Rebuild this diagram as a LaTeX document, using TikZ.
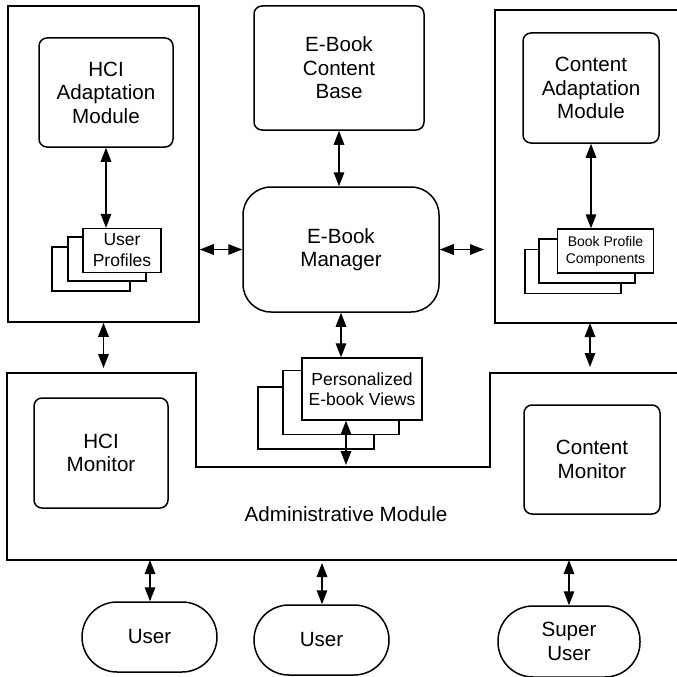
\documentclass[tikz,border=0pt]{standalone}
\usepackage{fontspec}
\setmainfont{Liberation Sans}
\usetikzlibrary{arrows.meta}
\begin{document}
\begin{tikzpicture}[x=1pt,y=-1pt,
  lw/.style={line width=1.5pt},
  big/.style={font=\fontsize{20.6}{23.5}\selectfont},
  box/.style={draw,lw,rounded corners=8pt,inner sep=0pt,align=center,big},
  frame/.style={draw,lw,inner sep=0pt},
  page/.style={draw,fill=white,line width=1.3pt,inner sep=0pt,align=center},
  dbl/.style={lw,{Triangle[length=14pt,width=10.5pt]}-{Triangle[length=14pt,width=10.5pt]}},
]
\useasboundingbox (0,0) rectangle (677,677);
\clip (0,0) rectangle (677,677);
\fill[white] (0,0) rectangle (677,677);

% left container
\node[frame,minimum width=191pt,minimum height=316pt] (hciC) at (103.5,164) {};
\node[box,minimum width=134pt,minimum height=109pt] (hciA) at (106,92.5) {HCI\\Adaptation\\Module};
\node[page,minimum width=78pt,minimum height=44pt] (up3) at (91,269) {};
\node[page,minimum width=78pt,minimum height=44pt] (up2) at (107,259) {};
\node[page,minimum width=78pt,minimum height=44pt,font=\fontsize{17.5}{21}\selectfont] (up1) at (122,250.5) {User\\Profiles};

% content base and manager
\node[box,minimum width=170pt,minimum height=124pt] (cb) at (339,68) {E-Book\\Content\\Base};
\node[box,rounded corners=28pt,minimum width=196pt,minimum height=125pt] (mgr) at (341,249.5) {E-Book\\Manager};

% right container (cut at the right edge)
\node[frame,minimum width=200pt,minimum height=313pt] (cC) at (595,166.5) {};
\node[box,minimum width=136pt,minimum height=110pt] (caM) at (591,88) {Content\\Adaptation\\Module};
\node[page,minimum width=96pt,minimum height=44pt] (bp3) at (573,271.5) {};
\node[page,minimum width=96pt,minimum height=44pt] (bp2) at (587,261) {};
\node[page,minimum width=96pt,minimum height=44pt,font=\fontsize{14}{17}\selectfont] (bp1) at (605.5,251) {Book Profile\\Components};

% administrative module
\draw[lw] (7,373) -- (196,373) -- (196,467) -- (490,467) -- (490,373) -- (700,373)
  -- (700,560) -- (7,560) -- cycle;
\node[big] (admlbl) at (346,514) {Administrative Module};
\node[box,minimum width=134pt,minimum height=110pt] (hciM) at (101,453) {HCI\\Monitor};
\node[box,minimum width=136pt,minimum height=109pt] (cM) at (592,459.5) {Content\\Monitor};

% personalized views
\node[page,minimum width=116pt,minimum height=62pt] (pv3) at (316,418) {};
\node[page,minimum width=116pt,minimum height=64pt] (pv2) at (341,402.5) {};
\node[page,minimum width=120pt,minimum height=62pt,font=\fontsize{17.5}{20.5}\selectfont] (pv1) at (362,389) {Personalized\\E-book Views};

% users
\node[box,rounded corners=35pt,minimum width=135pt,minimum height=70pt] (u1) at (149.5,637) {User};
\node[box,rounded corners=35pt,minimum width=135pt,minimum height=70pt] (u2) at (321.5,640) {User};
\node[box,rounded corners=35pt,minimum width=142pt,minimum height=71pt] (su) at (569,641.5) {Super\\User};

% coordinates
\coordinate (admT1) at (103.5,368);
\coordinate (cCb) at (590,323);
\coordinate (admT2) at (590,367);
\coordinate (notch) at (346,465);
\coordinate (admB1) at (150,560);
\coordinate (admB2) at (322,563);
\coordinate (admB3) at (569,560);
\coordinate (cCw) at (484,249.5);

% connectors
\draw[dbl] (hciA.south) -- (hciA.south |- up1.north);
\draw[dbl] (cb.south) -- (cb.south |- mgr.north);
\draw[dbl] (hciC.east |- mgr.west) -- (mgr.west);
\draw[dbl] (mgr.east) -- (cCw);
\draw[dbl] (caM.south) -- (caM.south |- bp1.north);
\draw[dbl] (hciC.south) -- (admT1);
\draw[dbl] (cCb) -- (admT2);
\draw[dbl] (mgr.south) -- (mgr.south |- pv1.north);
\draw[dbl] (notch |- pv1.south) -- (notch);
\draw[dbl] (admB1) -- (admB1 |- u1.north);
\draw[dbl] (admB2) -- (admB2 |- u2.north);
\draw[dbl] (admB3) -- (admB3 |- su.north);
\end{tikzpicture}
\end{document}
